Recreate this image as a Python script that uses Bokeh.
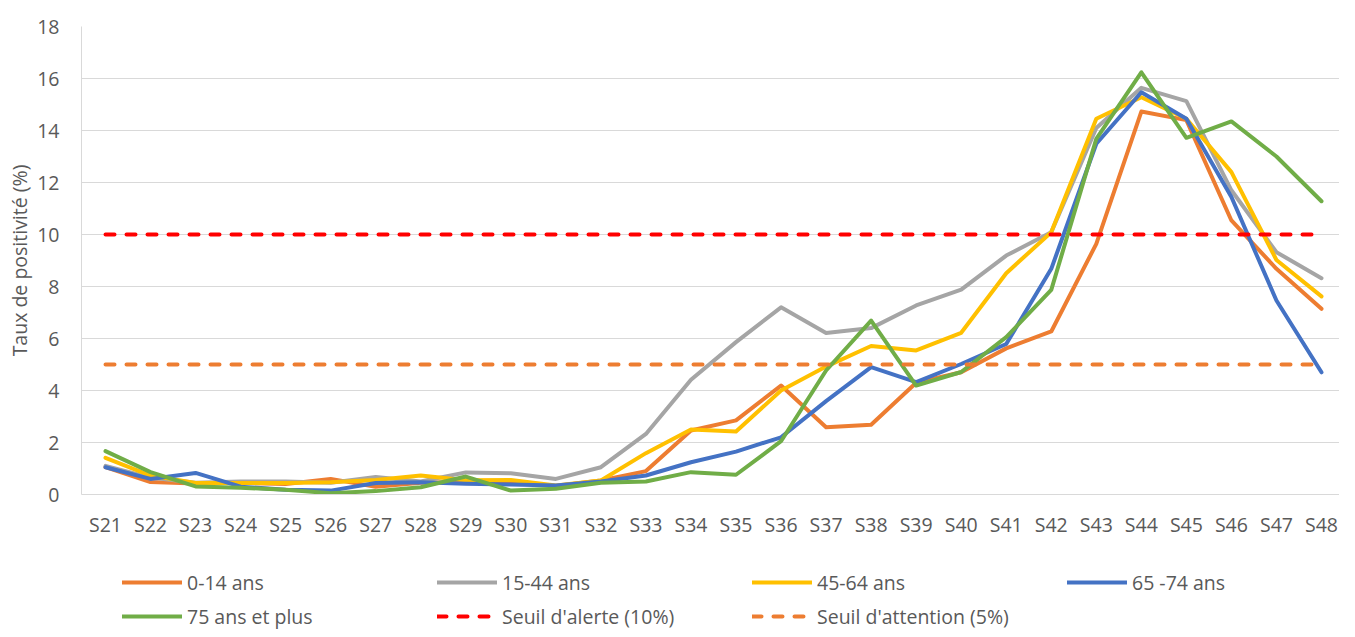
from bokeh.plotting import figure
from bokeh.models import Legend, LegendItem, FixedTicker, Range1d
from bokeh.layouts import column
from bokeh.embed import file_html
from bokeh.resources import INLINE

weeks = ["S21", "S22", "S23", "S24", "S25", "S26", "S27", "S28", "S29", "S30",
         "S31", "S32", "S33", "S34", "S35", "S36", "S37", "S38", "S39", "S40",
         "S41", "S42", "S43", "S44", "S45", "S46", "S47", "S48"]

age_0_14 = [1.05, 0.48, 0.42, 0.45, 0.40, 0.60, 0.30, 0.45, 0.48, 0.50,
            0.33, 0.54, 0.90, 2.46, 2.85, 4.19, 2.59, 2.68, 4.30, 4.70,
            5.62, 6.27, 9.64, 14.73, 14.40, 10.54, 8.68, 7.14]
age_15_44 = [1.10, 0.65, 0.45, 0.50, 0.50, 0.45, 0.67, 0.50, 0.85, 0.82,
             0.60, 1.05, 2.33, 4.41, 5.86, 7.20, 6.21, 6.40, 7.27, 7.88,
             9.19, 10.09, 14.10, 15.64, 15.13, 11.70, 9.32, 8.32]
age_45_64 = [1.41, 0.73, 0.44, 0.44, 0.44, 0.47, 0.56, 0.73, 0.55, 0.56,
             0.35, 0.54, 1.59, 2.50, 2.42, 4.00, 4.92, 5.71, 5.54, 6.22,
             8.51, 10.09, 14.45, 15.28, 14.45, 12.40, 9.02, 7.62]
age_65_74 = [1.05, 0.60, 0.83, 0.30, 0.18, 0.15, 0.44, 0.47, 0.41, 0.38,
             0.35, 0.50, 0.73, 1.24, 1.65, 2.20, 3.59, 4.90, 4.32, 5.02,
             5.79, 8.68, 13.49, 15.47, 14.45, 11.44, 7.46, 4.70]
age_75_plus = [1.67, 0.86, 0.31, 0.26, 0.18, 0.05, 0.13, 0.28, 0.69, 0.15,
               0.22, 0.45, 0.50, 0.86, 0.76, 2.05, 4.77, 6.69, 4.19, 4.71,
               6.05, 7.87, 13.68, 16.24, 13.72, 14.35, 13.00, 11.28]
alert_threshold = 10
attention_threshold = 5

y_ticks = [0, 2, 4, 6, 8, 10, 12, 14, 16, 18]

series_names = ["0-14 ans", "15-44 ans", "45-64 ans", "65 -74 ans", "75 ans et plus"]
series_values = [age_0_14, age_15_44, age_45_64, age_65_74, age_75_plus]
series_colors = ["#ED7D31", "#A5A5A5", "#FFC000", "#4472C4", "#70AD47"]
threshold_names = ["Seuil d'alerte (10%)", "Seuil d'attention (5%)"]
threshold_values = [alert_threshold, attention_threshold]
threshold_colors = ["#FF0000", "#ED7D31"]

FONT = "Open Sans"
TXT = "#595959"
FS = "19.5px"
LW = 4

x = list(range(len(weeks)))
xa = [x[0], x[-1]]

p = figure(width=1339, height=540, output_backend="svg", toolbar_location=None,
           x_range=Range1d(-0.533, 27.40), y_range=Range1d(y_ticks[0], y_ticks[-1]),
           min_border_left=81, min_border_right=0, min_border_top=26, min_border_bottom=46)
p.outline_line_color = None
p.background_fill_color = "white"
p.border_fill_color = "white"

p.xgrid.visible = False
p.ygrid.grid_line_color = "#D9D9D9"
p.ygrid.grid_line_width = 1

p.xaxis.ticker = FixedTicker(ticks=x)
p.xaxis.major_label_overrides = {i: w for i, w in enumerate(weeks)}
p.yaxis.ticker = FixedTicker(ticks=y_ticks)

for ax in (p.xaxis[0], p.yaxis[0]):
    ax.axis_line_color = "#D9D9D9"
    ax.axis_line_width = 1
    ax.major_tick_line_color = None
    ax.minor_tick_line_color = None
    ax.major_tick_out = 0
    ax.major_tick_in = 0
    ax.major_label_text_font = FONT
    ax.major_label_text_font_size = FS
    ax.major_label_text_color = TXT

p.xaxis.major_label_standoff = 16
p.yaxis.major_label_standoff = 22
p.yaxis.axis_label = "Taux de positivité (%)"
p.yaxis.axis_label_text_font = FONT
p.yaxis.axis_label_text_font_size = FS
p.yaxis.axis_label_text_font_style = "normal"
p.yaxis.axis_label_text_color = TXT
p.yaxis.axis_label_standoff = 1

for vals, col in zip(series_values, series_colors):
    p.line(x, vals, line_color=col, line_width=LW, line_join="round", line_cap="round")

for val, col in zip(threshold_values, threshold_colors):
    p.line(xa, [val] * 2, line_color=col, line_width=LW, line_dash="9 12", line_cap="round")

# legend figure (its sample lines lie outside its ranges, only the legend shows)
lg = figure(width=1339, height=89, output_backend="svg", toolbar_location=None,
            x_range=Range1d(1000, 1001), y_range=Range1d(1000, 1001),
            x_axis_location=None, y_axis_location=None, min_border=0)
lg.outline_line_color = None
lg.grid.visible = False
items = []
for name, vals, col in zip(series_names, series_values, series_colors):
    r = lg.line(x, vals, line_color=col, line_width=LW, line_cap="round")
    items.append(LegendItem(label=name, renderers=[r]))
for name, val, col in zip(threshold_names, threshold_values, threshold_colors):
    r = lg.line(xa, [val] * 2, line_color=col, line_width=LW, line_dash="9 12", line_cap="round")
    items.append(LegendItem(label=name, renderers=[r]))

legend = Legend(items=items, orientation="horizontal", ncols=4,
                location=(41, -4), padding=0, margin=0, spacing=0,
                glyph_width=60, glyph_height=34, label_height=34, label_width=250,
                label_standoff=5, border_line_color=None, background_fill_alpha=0,
                label_text_font=FONT, label_text_font_size=FS, label_text_color=TXT)
lg.add_layout(legend, "center")

layout = column(p, lg, spacing=0)
open("out.html", "w").write(file_html(layout, INLINE))
